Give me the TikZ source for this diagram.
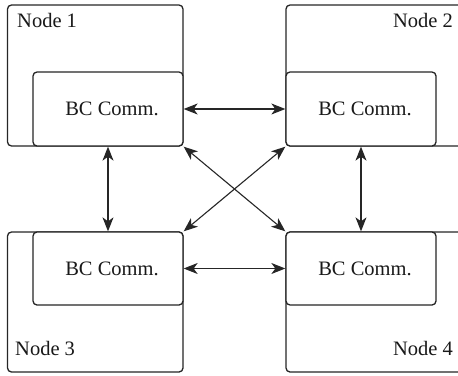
\documentclass[tikz,border=0pt]{standalone}
\usepackage{fontspec}
\setmainfont{Liberation Serif}
\usetikzlibrary{arrows.meta}
\begin{document}
\begin{tikzpicture}[x=1pt,y=-1pt,
  box/.style={draw=black!85, line width=1.3pt, rounded corners=4pt,
    rectangle, inner sep=0pt, fill=white},
  tip/.tip={Stealth[length=14pt,width=11pt,inset=4pt]},
  link/.style={draw=black!85, line width=1.1pt, tip-tip},
  txt/.style={font=\fontsize{20.5pt}{24pt}\selectfont, text=black!90, inner sep=0pt}]
\useasboundingbox (0,0) rectangle (458,375);
\begin{scope}
\clip (0,0) rectangle (458,375);
% outer node frames
\node[box, minimum width=175.5pt, minimum height=141pt] (n1) at (95.25,75.5) {};
\node[box, minimum width=176pt, minimum height=141pt] (n2) at (374,75.5) {};
\node[box, minimum width=175.5pt, minimum height=140pt] (n3) at (95.25,302) {};
\node[box, minimum width=176pt, minimum height=140pt] (n4) at (374,302) {};
% communication blocks
\node[box, minimum width=150pt, minimum height=74pt] (b1) at (108,109) {};
\node[box, minimum width=150pt, minimum height=74pt] (b2) at (361,109) {};
\node[box, minimum width=150pt, minimum height=73pt] (b3) at (108,268.5) {};
\node[box, minimum width=150pt, minimum height=73pt] (b4) at (361,268.5) {};
\end{scope}
% labels
\node[txt, anchor=base west] (l1) at (17,27) {Node 1};
\node[txt, anchor=base east] (l2) at (453,27) {Node 2};
\node[txt, anchor=base west] (l3) at (15,355) {Node 3};
\node[txt, anchor=base east] (l4) at (453,355) {Node 4};
\node[txt] (c1) at ([xshift=4pt]b1.center) {BC Comm.};
\node[txt] (c2) at ([xshift=4pt]b2.center) {BC Comm.};
\node[txt] (c3) at ([xshift=4pt]b3.center) {BC Comm.};
\node[txt] (c4) at ([xshift=4pt]b4.center) {BC Comm.};
% links
\draw[link] (b1.east) -- (b2.west);
\draw[link] (b3.east) -- (b4.west);
\draw[link] (b1.south) -- (b3.north);
\draw[link] (b2.south) -- (b4.north);
\draw[link] (b1.south east) -- (b4.north west);
\draw[link] (b2.south west) -- (b3.north east);
\end{tikzpicture}
\end{document}
